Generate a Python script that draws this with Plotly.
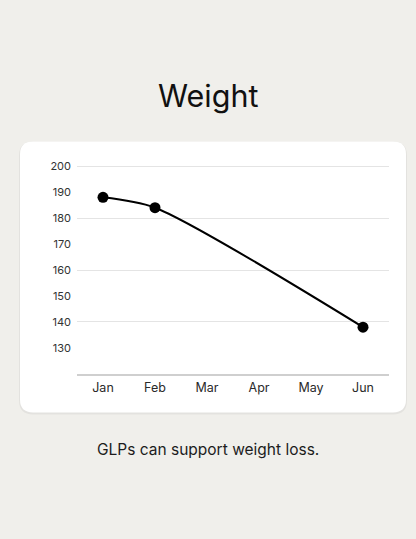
import plotly.graph_objects as go

months = ["Jan", "Feb", "Mar", "Apr", "May", "Jun"]
weight = [188, 184, None, None, None, 138]
y_labels = [130, 140, 150, 160, 170, 180, 190, 200]
grid_vals = [140, 160, 180, 200]

W, H = 416, 539
bg = "#f0efeb"

# card position in pixels
cx0, cy0, cx1, cy1, r = 20, 137, 406, 411, 13


def px_x(v):
    return v / W


def px_y(v):
    return 1 - v / H


def rounded(x0, y0, x1, y1, r):
    return (
        f"M {px_x(x0 + r)},{px_y(y0)} L {px_x(x1 - r)},{px_y(y0)} "
        f"Q {px_x(x1)},{px_y(y0)} {px_x(x1)},{px_y(y0 + r)} "
        f"L {px_x(x1)},{px_y(y1 - r)} Q {px_x(x1)},{px_y(y1)} {px_x(x1 - r)},{px_y(y1)} "
        f"L {px_x(x0 + r)},{px_y(y1)} Q {px_x(x0)},{px_y(y1)} {px_x(x0)},{px_y(y1 - r)} "
        f"L {px_x(x0)},{px_y(y0 + r)} Q {px_x(x0)},{px_y(y0)} {px_x(x0 + r)},{px_y(y0)} Z"
    )


fig = go.Figure()
fig.add_trace(go.Scatter(
    x=months, y=weight, mode="lines+markers", connectgaps=True,
    line=dict(color="#000000", width=2, shape="spline", smoothing=0.75),
    marker=dict(color="#000000", size=11),
    hoverinfo="skip", showlegend=False,
))
# helper trace so the grid axis gets drawn
fig.add_trace(go.Scatter(x=months[:1], y=[None], yaxis="y2", showlegend=False, hoverinfo="skip"))

y_top = 200.6
y_px_top, y_px_bot = 162, 372
unit = (y_px_bot - y_px_top) / 80
fig.update_layout(
    width=W, height=H,
    margin=dict(l=0, r=0, t=0, b=0),
    paper_bgcolor=bg, plot_bgcolor="rgba(0,0,0,0)",
    font=dict(family="Inter, Roboto, sans-serif", color="#222222"),
    xaxis=dict(
        domain=[77 / W, 389 / W], type="category", categoryorder="array",
        categoryarray=months, range=[-0.5, 5.5],
        showgrid=False, zeroline=False, showline=True, linecolor="#cfcfcf", linewidth=1.5,
        ticks="", tickfont=dict(size=12.5, color="#2a2a2a"), ticklabelstandoff=1,
        fixedrange=True,
    ),
    yaxis=dict(
        domain=[px_y(y_px_bot), px_y(y_px_top - (y_top - 200) * unit)], range=[120, y_top],
        tickvals=y_labels, showgrid=False, zeroline=False, showline=False,
        ticks="", tickfont=dict(size=11, color="#333333"), ticklabelstandoff=5,
        fixedrange=True,
    ),
    yaxis2=dict(
        overlaying="y", matches="y", tickvals=grid_vals, showticklabels=False,
        showgrid=True, gridcolor="#e4e4e4", gridwidth=1, zeroline=False, ticks="",
    ),
    shapes=[
        dict(type="path", path=rounded(cx0 - 1, cy0, cx1 + 1, cy1 + 2, r + 1),
             xref="paper", yref="paper", fillcolor="rgba(0,0,0,0.05)", line_width=0,
             layer="below"),
        dict(type="path", path=rounded(cx0, cy0, cx1, cy1, r), xref="paper", yref="paper",
             fillcolor="#ffffff", line_width=0, layer="below"),
    ],
    annotations=[
        dict(text="Weight", x=0.5, y=px_y(91), xref="paper", yref="paper",
             xanchor="center", yanchor="middle", showarrow=False,
             font=dict(size=30.5, color="#111111", family="Inter, sans-serif")),
        dict(text="GLPs can support weight loss.", x=0.5, y=px_y(448), xref="paper", yref="paper",
             xanchor="center", yanchor="middle", showarrow=False,
             font=dict(size=15.5, color="#1c1c1c")),
    ],
)

fig.write_html("out.html", config={"displayModeBar": False},
               post_script="document.body.style.margin='0';")
